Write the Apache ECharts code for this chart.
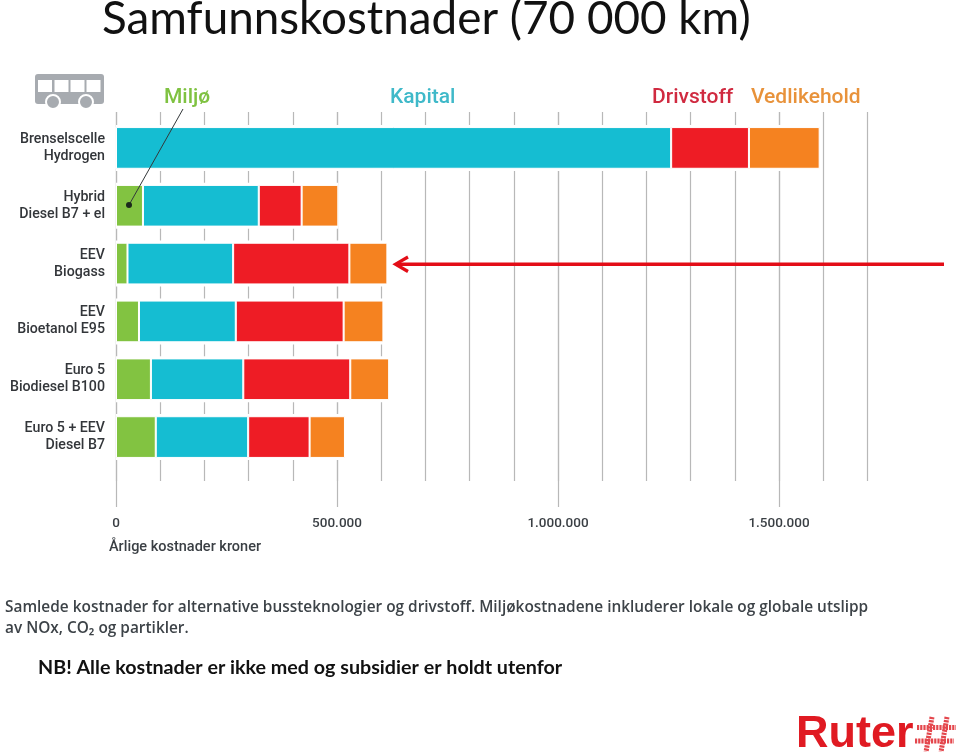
<!DOCTYPE html>
<html>
<head>
<meta charset="utf-8">
<script src="https://cdn.jsdelivr.net/npm/echarts@6/dist/echarts.min.js"></script>
<style>html,body{margin:0;padding:0;background:#fff}#c{width:960px;height:752px}</style>
</head>
<body>
<div id="c"></div>
<script>
const categories = ['Brenselscelle\nHydrogen','Hybrid\nDiesel B7 + el','EEV\nBiogass','EEV\nBioetanol E95','Euro 5\nBiodiesel B100','Euro 5 + EEV\nDiesel B7'];
const miljo = [0, 61000, 26000, 52000, 79000, 90000];
const kapital = [1256000, 262000, 239000, 219000, 209000, 209000];
const drivstoff = [176000, 97000, 263000, 244000, 242000, 139000];
const vedlikehold = [160000, 83000, 86000, 90000, 88000, 80000];
const tickLabels = ['0','500.000','1.000.000','1.500.000'];
const seriesNames = ['Miljø','Kapital','Drivstoff','Vedlikehold'];
const barColors = ['#82c341','#15bdd2','#ee1c25','#f58220'];
const textFont = 'Roboto';
const slideFont = 'Lato';

const chart = echarts.init(document.getElementById('c'), null, {renderer:'canvas'});
const mkBar = (name, data, color) => ({
  name, type:'bar', stack:'cost', xAxisIndex:0, yAxisIndex:0, data, z:5,
  barWidth:41.7, itemStyle:{color, borderColor:'#fff', borderWidth:1}, silent:true
});
const gridLine = {show:true, lineStyle:{color:'#b8b8b8', width:1.2}};
const txt = (text,x,y,fontSize,fill,fontWeight,family) => ({type:'text',left:x,top:y,z:20,style:{text,fontSize,fill,fontWeight:fontWeight||'normal',fontFamily:family||textFont}});
const totals = categories.map((_,i)=>miljo[i]+kapital[i]+drivstoff[i]+vedlikehold[i]);
const slant = (x1,y1,x2,y2) => ({type:'line',z:22,shape:{x1,y1,x2,y2},style:{stroke:'#e4474d',lineWidth:5,lineDash:[2.2,1]}});

chart.setOption({
  animation:false,
  backgroundColor:'#fff',
  grid:[
    {left:116, top:119, width:751.4, height:347},
    {left:116, top:112, width:751.4, height:369},
    {left:116, top:112, width:663, height:395},
    {left:116, top:119, width:751.4, height:347}
  ],
  xAxis:[
    {gridIndex:0, type:'value', min:0, max:1700000, show:false, splitLine:{show:false}},
    {gridIndex:1, type:'value', min:0, max:1700000, interval:100000, axisLine:{show:false}, axisTick:{show:false}, axisLabel:{show:false}, splitLine:gridLine},
    {gridIndex:2, type:'value', min:0, max:1500000, interval:500000, axisLine:{show:false}, axisTick:{show:false}, splitLine:gridLine,
      axisLabel:{show:true, margin:10, fontFamily:textFont, fontWeight:500, fontSize:13.5, color:'#3a3f44',
        formatter:(v)=>tickLabels[Math.round(v/500000)]}},
    {gridIndex:3, type:'value', min:0, max:1700000, show:false, splitLine:{show:false}}
  ],
  yAxis:[
    {gridIndex:0, type:'category', inverse:true, data:categories, axisLine:{show:false}, axisTick:{show:false}, splitLine:{show:false},
      axisLabel:{margin:11, align:'right', fontFamily:textFont, fontWeight:500, fontSize:14.2, lineHeight:17, padding:[14,0,0,0], color:'#33363a'}},
    {gridIndex:1, type:'value', show:false, splitLine:{show:false}},
    {gridIndex:2, type:'value', show:false, splitLine:{show:false}},
    {gridIndex:3, type:'category', inverse:true, data:categories, show:false, splitLine:{show:false}}
  ],
  series:[
    {name:'halo', type:'bar', xAxisIndex:3, yAxisIndex:3, data:totals, z:3, barWidth:46, silent:true, itemStyle:{color:'#fff'}},
    mkBar(seriesNames[0], miljo, barColors[0]),
    mkBar(seriesNames[1], kapital, barColors[1]),
    mkBar(seriesNames[2], drivstoff, barColors[2]),
    mkBar(seriesNames[3], vedlikehold, barColors[3])
  ],
  graphic:[
    txt('Samfunnskostnader (70 000 km)',102,-4,45.8,'#111','normal',slideFont),
    txt('Miljø',164,87,21,'#7fc241',500),
    txt('Kapital',390,87,21,'#3fb9c9',500),
    txt('Drivstoff',652,87,21,'#d02a40',500),
    txt('Vedlikehold',751,87,21,'#e8923a',500),
    txt('Årlige kostnader kroner',109,539.5,14.5,'#3a3f44',500),
    txt('Samlede kostnader for alternative bussteknologier og drivstoff. Miljøkostnadene inkluderer lokale og globale utslipp',5,600,15.4,'#3d4348',600,'Open Sans'),
    txt('av NOx, CO₂ og partikler.',5,621,15.4,'#3d4348',600,'Open Sans'),
    txt('NB! Alle kostnader er ikke med og subsidier er holdt utenfor',38,658,19.7,'#111','bold',slideFont),
    txt('Ruter',796,712,45,'#e01a22','bold','Liberation Sans'),
    slant(932,717,926,752), slant(947,717,941,752), slant(917,727.5,956,727.5), slant(915,741,954,741),
    // bus icon
    {type:'rect',z:20,shape:{x:35,y:74,width:69,height:30,r:3},style:{fill:'#a7abb0'}},
    {type:'rect',z:21,shape:{x:38,y:80,width:14,height:12},style:{fill:'#fff'}},
    {type:'rect',z:21,shape:{x:54.5,y:80,width:14,height:12},style:{fill:'#fff'}},
    {type:'rect',z:21,shape:{x:70.5,y:80,width:14,height:12},style:{fill:'#fff'}},
    {type:'rect',z:21,shape:{x:86.5,y:80,width:14,height:12},style:{fill:'#fff'}},
    {type:'circle',z:21,shape:{cx:53,cy:102,r:7},style:{fill:'#a7abb0',stroke:'#fff',lineWidth:2}},
    {type:'circle',z:21,shape:{cx:86,cy:102,r:7},style:{fill:'#a7abb0',stroke:'#fff',lineWidth:2}},
    // Miljø leader
    {type:'line',z:22,shape:{x1:183,y1:109,x2:129,y2:205},style:{stroke:'#33383a',lineWidth:1}},
    {type:'circle',z:22,shape:{cx:129,cy:205,r:3},style:{fill:'#1c2a1c'}},
    // red arrow
    {type:'line',z:22,shape:{x1:944,y1:264.2,x2:396,y2:264.2},style:{stroke:'#e30d17',lineWidth:3.4}},
    {type:'polyline',z:22,shape:{points:[[408,257],[395.5,264.2],[408,271.5]]},style:{stroke:'#e30d17',lineWidth:3.2,fill:null}}
  ]
});
</script>
</body>
</html>
